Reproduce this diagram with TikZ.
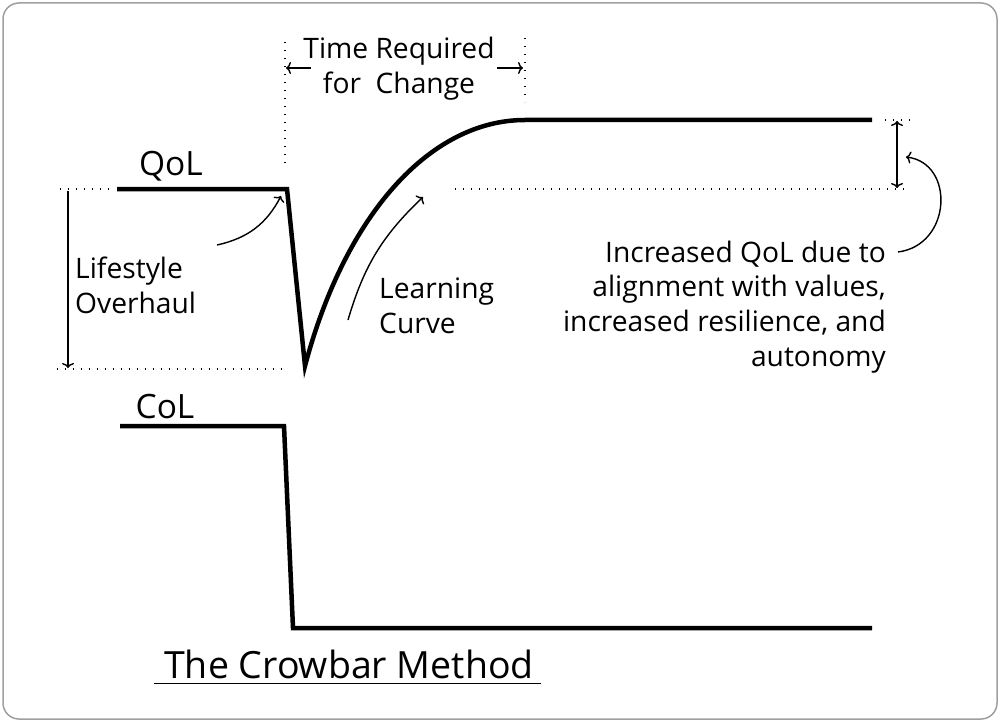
\documentclass[tikz,border=0pt]{standalone}
\usepackage{fontspec}
\setmainfont{Open Sans}
\usetikzlibrary{arrows.meta}

\begin{document}
\begin{tikzpicture}[
  x=1pt, y=-1pt, >={To[length=5pt,width=12pt]},
  curve/.style={line width=4.5pt,line join=miter},
  guide/.style={line width=1.4pt,dash pattern=on 1.4pt off 6.6pt},
  note/.style={->,line width=1.4pt},
  lbl/.style={font=\fontsize{28.2}{34.8}\selectfont,inner sep=0pt},
  big/.style={font=\fontsize{33.5}{38}\selectfont,inner sep=0pt}]
\useasboundingbox (0,0) rectangle (1000,722);
\draw[gray!75,line width=1.5pt,rounded corners=16pt] (3,3) rectangle (997,719);
% quality of life
\coordinate (q0) at (117,189);
\coordinate (q1) at (287,189);
\coordinate (q2) at (305,366);
\coordinate (q3) at (525,120);
\coordinate (q4) at (872,120);
\draw[curve] (q0) -- (q1) -- (q2) .. controls (345,215) and (430,120) .. (q3) -- (q4);
% cost of living
\coordinate (c0) at (120,426);
\coordinate (c1) at (284,426);
\coordinate (c2) at (293,628);
\coordinate (c3) at (872,628);
\draw[curve] (c0) -- (c1) -- (c2) -- (c3);
% guides
\draw[guide] (60,189) -- (112,189);
\draw[guide] (57,369) -- (288,369);
\draw[guide] (285,42) -- (285,163);
\draw[guide] (525,38) -- (525,102);
\draw[guide] (455,189) -- (905,189);
\draw[guide] (885,120) -- (912,120);
% labels
\node[big] (qol) at (171,166) {QoL};
\node[big] (col) at (165,407) {CoL};
\node[lbl,align=left,anchor=west] (over) at (75,285) {Lifestyle\\Overhaul};
\node[lbl,align=center] (time) at (399,69) {Time Required\\for~ Change};
\node[lbl,align=left,anchor=west] (learn) at (379,306) {Learning\\Curve};
\node[lbl,align=right,anchor=east] (gain) at (886,307) {Increased QoL due to\\alignment with values,\\increased resilience, and\\autonomy};
\node[font=\fontsize{37.5}{42}\selectfont,inner sep=0pt] (title) at (349,664) {The Crowbar Method};
\draw[line width=1pt] (154,683) -- (541,683);
% arrows
\draw[note] (68,191) -- (68,368);
\draw[note] (311,68) -- (286,68);
\draw[note] (497,68) -- (523,68);
\draw[note,<->] (897,121) -- (897,188);
\coordinate (dropA) at (217,245);
\coordinate (dropB) at (281,196);
\draw[note] (dropA) to[bend right=25] (dropB);
\coordinate (learnA) at (348,320);
\coordinate (learnB) at (423,197);
\draw[note] (learnA) to[bend left=15] (learnB);
\coordinate (gainA) at (898,252);
\coordinate (gainB) at (906,157);
\draw[note] (gainA) .. controls (952,245) and (955,163) .. (gainB);
\end{tikzpicture}
\end{document}
